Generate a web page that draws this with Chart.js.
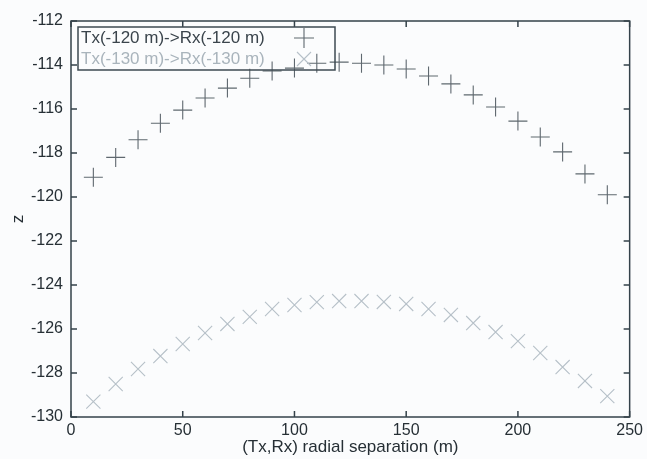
<!DOCTYPE html>
<html>
<head>
<meta charset="utf-8">
<script src="https://cdn.jsdelivr.net/npm/chart.js@4/dist/chart.umd.min.js"></script>
<style>
  html, body { margin: 0; padding: 0; background: #fbfcfd; }
  #wrap { width: 647px; height: 459px; }
</style>
</head>
<body>
<div id="wrap"><canvas id="chart" width="647" height="459"></canvas></div>
<script>
// ─── Data ────────────────────────────────────────────────────────────────────
const separation = [10, 20, 30, 40, 50, 60, 70, 80, 90, 100, 110, 120,
                    130, 140, 150, 160, 170, 180, 190, 200, 210, 220, 230, 240];
const zTx120 = [-119.1, -118.2, -117.4, -116.65, -116.05, -115.5, -115.05, -114.6,
                -114.27, -114.14, -113.92, -113.87, -113.92, -114.0, -114.18, -114.5,
                -114.86, -115.36, -115.91, -116.55, -117.27, -117.95, -118.95, -119.9];
const zTx130 = [-129.3, -128.5, -127.82, -127.23, -126.68, -126.18, -125.77, -125.45,
                -125.09, -124.91, -124.78, -124.73, -124.73, -124.77, -124.86, -125.09,
                -125.36, -125.73, -126.14, -126.55, -127.09, -127.73, -128.36, -129.05];
const seriesLabels = ['Tx(-120 m)->Rx(-120 m)', 'Tx(-130 m)->Rx(-130 m)'];
const xTicks = [0, 50, 100, 150, 200, 250];
const yTicks = [-130, -128, -126, -124, -122, -120, -118, -116, -114, -112];

const FONT = '"Liberation Sans", Arial, sans-serif';
const AXIS = '#34424a';
const DARK = '#5f686f';
const LIGHT = '#b6c0c8';
const TEXT = '#262f35';

function pts(ys) {
    return separation.map(function (x, i) { return { x: x, y: ys[i] }; });
}

// ─── Frame, inward ticks and the boxed legend (gnuplot look) ─────────────────
const framePlugin = {
    id: 'frame',
    afterDraw: function (chart) {
        const ctx = chart.ctx;
        const a = chart.chartArea;
        const xs = chart.scales.x, ys = chart.scales.y;
        const t = 6;
        ctx.save();
        ctx.strokeStyle = AXIS;
        ctx.lineWidth = 1.5;
        ctx.strokeRect(a.left, a.top, a.right - a.left, a.bottom - a.top);
        ctx.beginPath();
        xTicks.forEach(function (v) {
            const px = xs.getPixelForValue(v);
            ctx.moveTo(px, a.bottom); ctx.lineTo(px, a.bottom - t);
            ctx.moveTo(px, a.top); ctx.lineTo(px, a.top + t);
        });
        yTicks.forEach(function (v) {
            const py = ys.getPixelForValue(v);
            ctx.moveTo(a.left, py); ctx.lineTo(a.left + t, py);
            ctx.moveTo(a.right, py); ctx.lineTo(a.right - t, py);
        });
        ctx.stroke();

        // legend box
        const bx = a.left + 7, by = a.top + 6, bw = 257, bh = 43;
        ctx.lineWidth = 1.5;
        ctx.strokeStyle = '#3e4a52';
        ctx.strokeRect(bx, by, bw, bh);
        ctx.font = '17px ' + FONT;
        ctx.textBaseline = 'middle';
        ctx.textAlign = 'left';
        const rows = [{ c: '#3a444c', m: 'cross' }, { c: '#a9b4bc', m: 'crossRot' }];
        rows.forEach(function (r, i) {
            const ty = by + 11 + i * 21;
            ctx.fillStyle = r.c;
            ctx.fillText(seriesLabels[i], bx + 3, ty);
            ctx.strokeStyle = i === 0 ? DARK : LIGHT;
            ctx.lineWidth = 1.1;
            ctx.beginPath();
            if (r.m === 'cross') {
                ctx.moveTo(bx + 216, ty); ctx.lineTo(bx + 236, ty);
                ctx.moveTo(bx + 226, ty - 10); ctx.lineTo(bx + 226, ty + 10);
            } else {
                ctx.moveTo(bx + 219, ty - 7); ctx.lineTo(bx + 233, ty + 7);
                ctx.moveTo(bx + 219, ty + 7); ctx.lineTo(bx + 233, ty - 7);
            }
            ctx.stroke();
        });
        ctx.restore();
    }
};

new Chart(document.getElementById('chart'), {
    type: 'scatter',
    data: {
        datasets: [{
            label: seriesLabels[0],
            data: pts(zTx120),
            pointStyle: 'cross',
            pointRadius: 9.5,
            pointBorderWidth: 1.1,
            borderColor: DARK,
            backgroundColor: DARK
        }, {
            label: seriesLabels[1],
            data: pts(zTx130),
            pointStyle: 'crossRot',
            pointRadius: 10,
            pointBorderWidth: 1.1,
            borderColor: LIGHT,
            backgroundColor: LIGHT
        }]
    },
    options: {
        responsive: false,
        animation: false,
        clip: false,
        layout: { padding: { top: 21, right: 17, left: 0, bottom: 0 } },
        plugins: { legend: { display: false }, tooltip: { enabled: false } },
        scales: {
            x: {
                type: 'linear',
                min: 0, max: 250,
                afterBuildTicks: function (s) { s.ticks = xTicks.map(function (v) { return { value: v }; }); },
                afterFit: function (s) { s.height = 42; },
                grid: { display: false, drawTicks: false },
                border: { display: false },
                ticks: { color: TEXT, padding: 4, font: { family: FONT, size: 16 } },
                title: {
                    display: true,
                    text: '(Tx,Rx) radial separation (m)',
                    color: TEXT,
                    padding: { top: 0, bottom: 1 },
                    font: { family: FONT, size: 17 }
                }
            },
            y: {
                type: 'linear',
                min: -130, max: -112,
                afterBuildTicks: function (s) { s.ticks = yTicks.map(function (v) { return { value: v }; }); },
                afterFit: function (s) { s.width = 71; },
                grid: { display: false, drawTicks: false },
                border: { display: false },
                ticks: { color: TEXT, padding: 8, font: { family: FONT, size: 16 } },
                title: {
                    display: true,
                    text: 'z',
                    color: TEXT,
                    padding: { top: 8, bottom: 0 },
                    font: { family: FONT, size: 17 }
                }
            }
        }
    },
    plugins: [framePlugin]
});
</script>
</body>
</html>
